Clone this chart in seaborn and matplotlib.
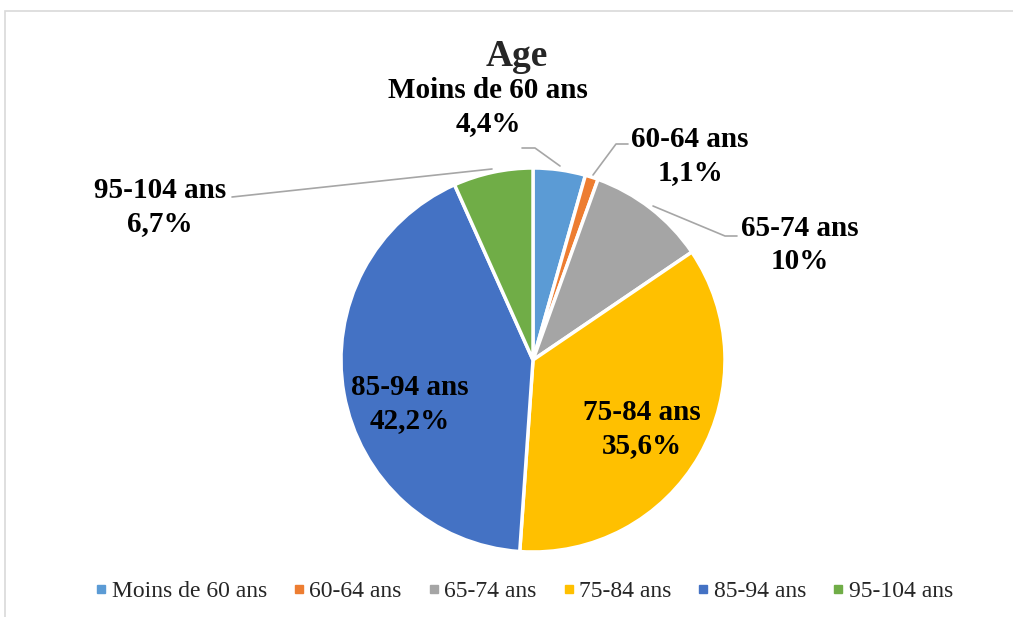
import matplotlib
matplotlib.use("Agg")
import matplotlib.pyplot as plt
import seaborn as sns
from matplotlib.lines import Line2D
from matplotlib.patches import Rectangle

# data
categories = ["Moins de 60 ans", "60-64 ans", "65-74 ans", "75-84 ans", "85-94 ans", "95-104 ans"]
percents = [4.4, 1.1, 10, 35.6, 42.2, 6.7]
colors = ["#5B9BD5", "#ED7D31", "#A5A5A5", "#FFC000", "#4472C4", "#70AD47"]

sns.set_theme(style="white")
plt.rcParams['font.family'] = ['Liberation Serif', 'DejaVu Serif']

W, H = 1013, 617
fig = plt.figure(figsize=(W / 100, H / 100), dpi=100)
ax = fig.add_axes([0, 0, 1, 1])

palette = sns.color_palette(colors)
# y axis is inverted, so counterclock=True draws clockwise on screen
wedges, _ = ax.pie(percents, colors=palette, startangle=-90, counterclock=True,
                   center=(533, 360), radius=192, frame=True,
                   wedgeprops=dict(edgecolor="white", linewidth=2.5))
ax.set_xlim(0, W)
ax.set_ylim(H, 0)
ax.set_aspect("equal")
ax.axis("off")


def fmt(v):
    return f"{v:g}".replace(".", ",") + "%"


# label positions (pixel layout) and leader line paths
label_pos = [(488, 107), (690, 156), (800, 245), (642, 429), (410, 404), (160, 207)]
leaders = {
    0: [(522, 148), (535, 148), (560, 166)],
    1: [(628, 144), (616, 144), (593, 175)],
    2: [(737, 236), (725, 236), (653, 206)],
    5: [(232, 197), (492, 169)],
}

for i, (cat, v) in enumerate(zip(categories, percents)):
    x, y = label_pos[i]
    ax.text(x, y, f"{cat}\n{fmt(v)}", ha="center", va="center", fontsize=21,
            fontweight="bold", linespacing=1.32, color="black")
    if i in leaders:
        xs, ys = zip(*leaders[i])
        ax.plot(xs, ys, color="#A6A6A6", linewidth=1.2)

ax.text(517, 57, "Age", ha="center", va="center", fontsize=27, fontweight="bold")

handles = [Line2D([0], [0], marker="s", linestyle="", markersize=6,
                  markerfacecolor=c, markeredgecolor=c) for c in palette]
fig.legend(handles, categories, loc="center", bbox_to_anchor=(523 / W, 1 - 591 / H),
           ncol=6, frameon=False, fontsize=17, handletextpad=0.1,
           columnspacing=1.0, handlelength=0.7)

fig.patches.append(Rectangle((5 / W, -0.1), 1.1, (H - 11) / H + 0.1,
                             transform=fig.transFigure, fill=False,
                             edgecolor="#D9D9D9", linewidth=1.2))

fig.savefig("out.png", dpi=100)
